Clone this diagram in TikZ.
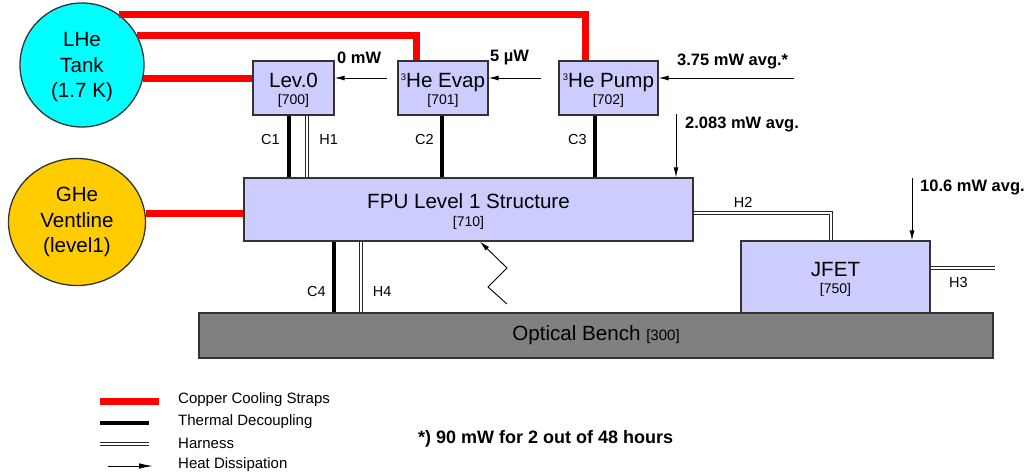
\documentclass[tikz,border=0pt]{standalone}
\usepackage{fontspec}
\setmainfont{Liberation Sans}
\usetikzlibrary{arrows.meta, shapes.geometric}
\definecolor{boxblue}{RGB}{204,204,255}
\definecolor{tankcyan}{RGB}{0,255,255}
\definecolor{ventgold}{RGB}{255,204,0}
\definecolor{benchgray}{RGB}{128,128,128}
\definecolor{strapred}{RGB}{255,0,0}
\newcommand{\boxlabel}[2]{\rule{0pt}{19pt}#1\\[-6.5pt]{\fontsize{14}{14}\selectfont[#2]}}
\newcommand{\helium}{\raisebox{6.5pt}{\fontsize{9.5}{10}\selectfont 3}}

\begin{document}
\begin{tikzpicture}[x=1pt, y=-1pt,
        >={Latex[length=10pt,width=5pt]},   % arrow tips
        font=\fontsize{20.6}{24}\selectfont,
        box/.style={draw=black!80, line width=1.3pt, fill=boxblue, align=center, inner sep=0pt},
        tank/.style={circle, draw=black!80, line width=1.3pt, minimum size=124pt, inner sep=0pt, align=center, font=\fontsize{20.6}{25.5}\selectfont},
        strap/.style={draw=strapred, line width=7pt},
        decoupling/.style={draw=black, line width=4.5pt},
        harness/.style={draw=black!85, double=white, line width=0.9pt, double distance=2.2pt},
        heat/.style={->, draw=black, line width=0.9pt},
        tag/.style={font=\fontsize{14.5}{14.5}\selectfont, inner sep=0pt},
        flux/.style={font=\fontsize{16.5}{17}\selectfont\bfseries, inner sep=0pt, anchor=west},
        legendtext/.style={font=\fontsize{15}{15}\selectfont, inner sep=0pt, anchor=west}]
        \useasboundingbox (0,0) rectangle (1028,474);
        % Tank und Ventline
        \node[tank, fill=tankcyan] (lhe) at (82,65) {\rule{0pt}{19pt}LHe\\Tank\\(1.7 K)};
        \node[tank, ellipse, fill=ventgold, minimum width=137pt, minimum height=127pt] (ghe) at (77,222) {GHe\\Ventline\\(level1)};
        % Kaltstufen
        \node[box, minimum width=81pt, minimum height=54pt] (lev0) at (293.5,88) {\boxlabel{Lev.0}{700}};
        \node[box, minimum width=90pt, minimum height=54pt] (evap) at (443,88) {\boxlabel{\helium He Evap}{701}};
        \node[box, minimum width=99pt, minimum height=54pt] (pump) at (608.5,88) {\boxlabel{\helium He Pump}{702}};
        \node[box, minimum width=449pt, minimum height=63pt] (fpu) at (468.5,209.5) {\boxlabel{FPU Level 1 Structure}{710}};
        \node[box, minimum width=189pt, minimum height=72pt] (jfet) at (835.5,277) {\boxlabel{JFET}{750}};
        \node[box, fill=benchgray, minimum width=794pt, minimum height=45pt] (bench) at (596,335.5) {\raisebox{-2.5pt}{Optical Bench {\fontsize{15}{15}\selectfont[300]}}};
        % Kupferbaender
        \draw[strap] (lhe.54) -| ([xshift=-23.5pt]pump.north);
        \draw[strap] (lhe.28) -| ([xshift=-27pt]evap.north);
        \draw[strap] (lhe.-12.5) -- (lhe.-12.5 -| lev0.west);
        \draw[strap] (ghe.7) -- (ghe.7 -| fpu.west);
        % Entkopplung und Kabel
        \coordinate (c1) at ([xshift=-4.5pt]lev0.south);
        \coordinate (h1) at ([xshift=13.5pt]lev0.south);
        \coordinate (c2) at ([xshift=-1pt]evap.south);
        \coordinate (c3) at ([xshift=-13.5pt]pump.south);
        \coordinate (c4) at ([xshift=-134.5pt]fpu.south);
        \coordinate (h4) at ([xshift=-107.5pt]fpu.south);
        \coordinate (h3end) at (995,268);
        \draw[decoupling] (c1) -- (c1 |- fpu.north) node[tag, pos=0.38, left=7pt] {C1};
        \draw[harness] (h1) -- (h1 |- fpu.north) node[tag, pos=0.38, right=12pt] {H1};
        \draw[decoupling] (c2) -- (c2 |- fpu.north) node[tag, pos=0.38, left=6pt] {C2};
        \draw[decoupling] (c3) -- (c3 |- fpu.north) node[tag, pos=0.38, left=6pt] {C3};
        \draw[decoupling] (c4) -- (c4 |- bench.north) node[tag, pos=0.71, left=6pt] {C4};
        \draw[harness] (h4) -- (h4 |- bench.north) node[tag, pos=0.71, right=11.5pt] {H4};
        \draw[harness] ([yshift=-3.5pt]fpu.east) -| ([xshift=-4.5pt]jfet.north) node[tag, pos=0.18, above=5pt] {H2};
        \draw[harness] (jfet.east |- h3end) -- (h3end) node[tag, pos=0.43, below=9pt] {H3};
        % Waermefluesse
        \draw[heat] ([xshift=-10pt,yshift=10pt]evap.west) -- ([yshift=10pt]lev0.east);
        \draw[heat] ([xshift=-17pt,yshift=10pt]pump.west) -- ([yshift=10pt]evap.east);
        \draw[heat] ([xshift=135pt,yshift=10pt]pump.east) -- ([yshift=10pt]pump.east);
        \coordinate (q2083) at (676,114);
        \draw[heat] (q2083) -- (q2083 |- fpu.north);
        \coordinate (q106) at (912,178);
        \draw[heat] (q106) -- (q106 |- jfet.north);
        \draw[heat] (507,304) -- (488,287) -- (507,268) -- ([xshift=11.5pt]fpu.south);
        \node[flux] (f0) at (337,58) {0 mW};
        \node[flux] (f5) at (490,58) {5 µW};
        \node[flux] (f375) at (677,61) {3.75 mW avg.*};
        \node[flux] (f2083) at (685,124) {2.083 mW avg.};
        \node[flux] (f106) at (920,187) {10.6 mW avg.};
        % Legende
        \draw[strap] (100,401) -- (159,401);
        \draw[decoupling] (100,423) -- (149,423);
        \draw[harness] (100,444) -- (149,444);
        \draw[heat, >={Latex[length=14pt,width=5.5pt]}] (108,466) -- (153,466);
        \node[legendtext] (leg1) at (178,400) {Copper Cooling Straps};
        \node[legendtext] (leg2) at (178,422) {Thermal Decoupling};
        \node[legendtext] (leg3) at (178,443) {Harness};
        \node[legendtext] (leg4) at (178,465) {Heat Dissipation};
        \node[flux, font=\fontsize{18}{18}\selectfont\bfseries] (note) at (418,439) {*) 90 mW for 2 out of 48 hours};
\end{tikzpicture}
\end{document}
